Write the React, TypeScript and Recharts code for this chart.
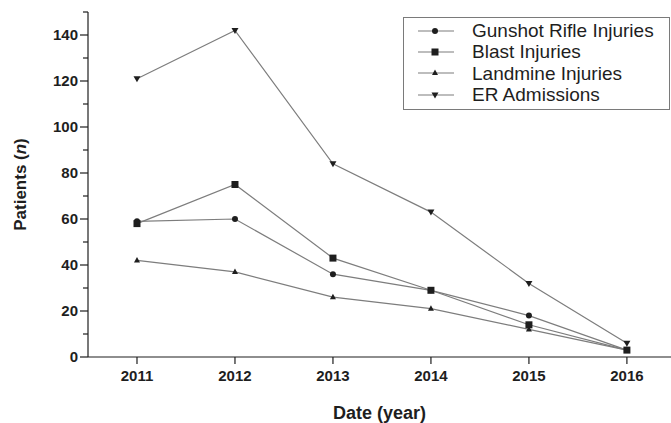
import React from "react";
import { LineChart, Line, XAxis, YAxis, Legend } from "recharts";

const years = [2011, 2012, 2013, 2014, 2015, 2016];
const gunshot = [59, 60, 36, 29, 18, 3];
const blast = [58, 75, 43, 29, 14, 3];
const landmine = [42, 37, 26, 21, 12, 3];
const erAdmissions = [121, 142, 84, 63, 32, 6];

const yTicks = [0, 10, 20, 30, 40, 50, 60, 70, 80, 90, 100, 110, 120, 130, 140, 150];

const FONT = '"Liberation Sans", Arial, sans-serif';
const INK = "#1e1e1e";
const LINE = "#7d7d7d";

const SERIES = [
  { key: "gunshot", name: "Gunshot Rifle Injuries", shape: "circle" },
  { key: "blast", name: "Blast Injuries", shape: "square" },
  { key: "landmine", name: "Landmine Injuries", shape: "triangle" },
  { key: "er", name: "ER Admissions", shape: "down" },
];

const data = years.map((year, i) => ({
  year,
  gunshot: gunshot[i],
  blast: blast[i],
  landmine: landmine[i],
  er: erAdmissions[i],
}));

function Marker({ shape, cx, cy }: { shape: string; cx: number; cy: number }) {
  if (shape === "circle") return <circle cx={cx} cy={cy} r={3} fill={INK} />;
  if (shape === "square") return <rect x={cx - 3.5} y={cy - 3.5} width={7} height={7} fill={INK} />;
  if (shape === "triangle")
    return <path d={`M${cx},${cy - 3.5} L${cx + 3},${cy + 2} L${cx - 3},${cy + 2} Z`} fill={INK} />;
  return <path d={`M${cx - 3.5},${cy - 2.5} L${cx + 3.5},${cy - 2.5} L${cx},${cy + 3.5} Z`} fill={INK} />;
}

const YTick = ({ x, y, payload }: any) => {
  const major = payload.value % 20 === 0 && payload.value <= 140;
  return (
    <g>
      <line x1={x - (major ? 8 : 5)} x2={x} y1={y} y2={y} stroke={INK} strokeWidth={1.2} />
      {major && (
        <text x={x - 10} y={y} dy="0.36em" textAnchor="end" fontFamily={FONT} fontWeight="bold" fontSize={15} fill={INK}>
          {payload.value}
        </text>
      )}
    </g>
  );
};

const YTitle = ({ viewBox }: any) => {
  const cy = viewBox ? viewBox.y + viewBox.height / 2 : 185;
  return (
    <text x={26} y={cy} transform={`rotate(-90, 26, ${cy})`} textAnchor="middle" fontFamily={FONT} fontWeight="bold" fontSize={17} fill={INK}>
      Patients (<tspan fontStyle="italic">n</tspan>)
    </text>
  );
};

const LegendBox = () => (
  <div
    style={{
      border: "1px solid #7a7a7a",
      boxSizing: "border-box",
      width: 267,
      height: 93,
      paddingTop: 2,
      background: "#fff",
      fontFamily: FONT,
      fontSize: 19,
      color: INK,
    }}
  >
    {SERIES.map((s) => (
      <div key={s.key} style={{ display: "flex", alignItems: "center", height: 21.3 }}>
        <svg width={40} height={12} style={{ marginLeft: 14 }}>
          <line x1={0} x2={36} y1={6} y2={6} stroke={LINE} strokeWidth={1.2} />
          <Marker shape={s.shape} cx={17} cy={6} />
        </svg>
        <span style={{ marginLeft: 14, whiteSpace: "nowrap", lineHeight: "21px" }}>{s.name}</span>
      </div>
    ))}
  </div>
);

export default function App() {
  return (
    <div style={{ position: "absolute", left: 0, top: 0, background: "#fff" }}>
      <LineChart width={671} height={423} data={data} margin={{ top: 12, right: 0, bottom: 0, left: 0 }}>
        <XAxis
          dataKey="year"
          type="number"
          domain={[2010.5, 2016.45]}
          ticks={years}
          allowDataOverflow
          height={66}
          tickSize={7}
          tickMargin={6}
          axisLine={{ stroke: INK, strokeWidth: 1.2 }}
          tickLine={{ stroke: INK, strokeWidth: 1.2 }}
          tick={{ fill: INK, fontFamily: FONT, fontWeight: "bold", fontSize: 15 }}
          label={{
            value: "Date (year)",
            position: "insideBottom",
            offset: 4,
            style: { fill: INK, fontFamily: FONT, fontWeight: "bold", fontSize: 18 },
          }}
        />
        <YAxis
          type="number"
          domain={[0, 150]}
          ticks={yTicks}
          interval={0}
          width={88}
          tickSize={0}
          tickMargin={0}
          tickLine={false}
          axisLine={{ stroke: INK, strokeWidth: 1.2 }}
          tick={<YTick />}
          label={<YTitle />}
        />
        <Legend layout="vertical" align="center" verticalAlign="middle" wrapperStyle={{ top: 17, left: 403, width: 267 }} content={<LegendBox />} />
        {SERIES.map((s) => (
          <Line
            key={s.key}
            dataKey={s.key}
            name={s.name}
            type="linear"
            stroke={LINE}
            strokeWidth={1.2}
            isAnimationActive={false}
            dot={(p: any) => <Marker key={`${s.key}-${p.index}`} shape={s.shape} cx={p.cx} cy={p.cy} />}
            activeDot={false}
          />
        ))}
      </LineChart>
    </div>
  );
}
